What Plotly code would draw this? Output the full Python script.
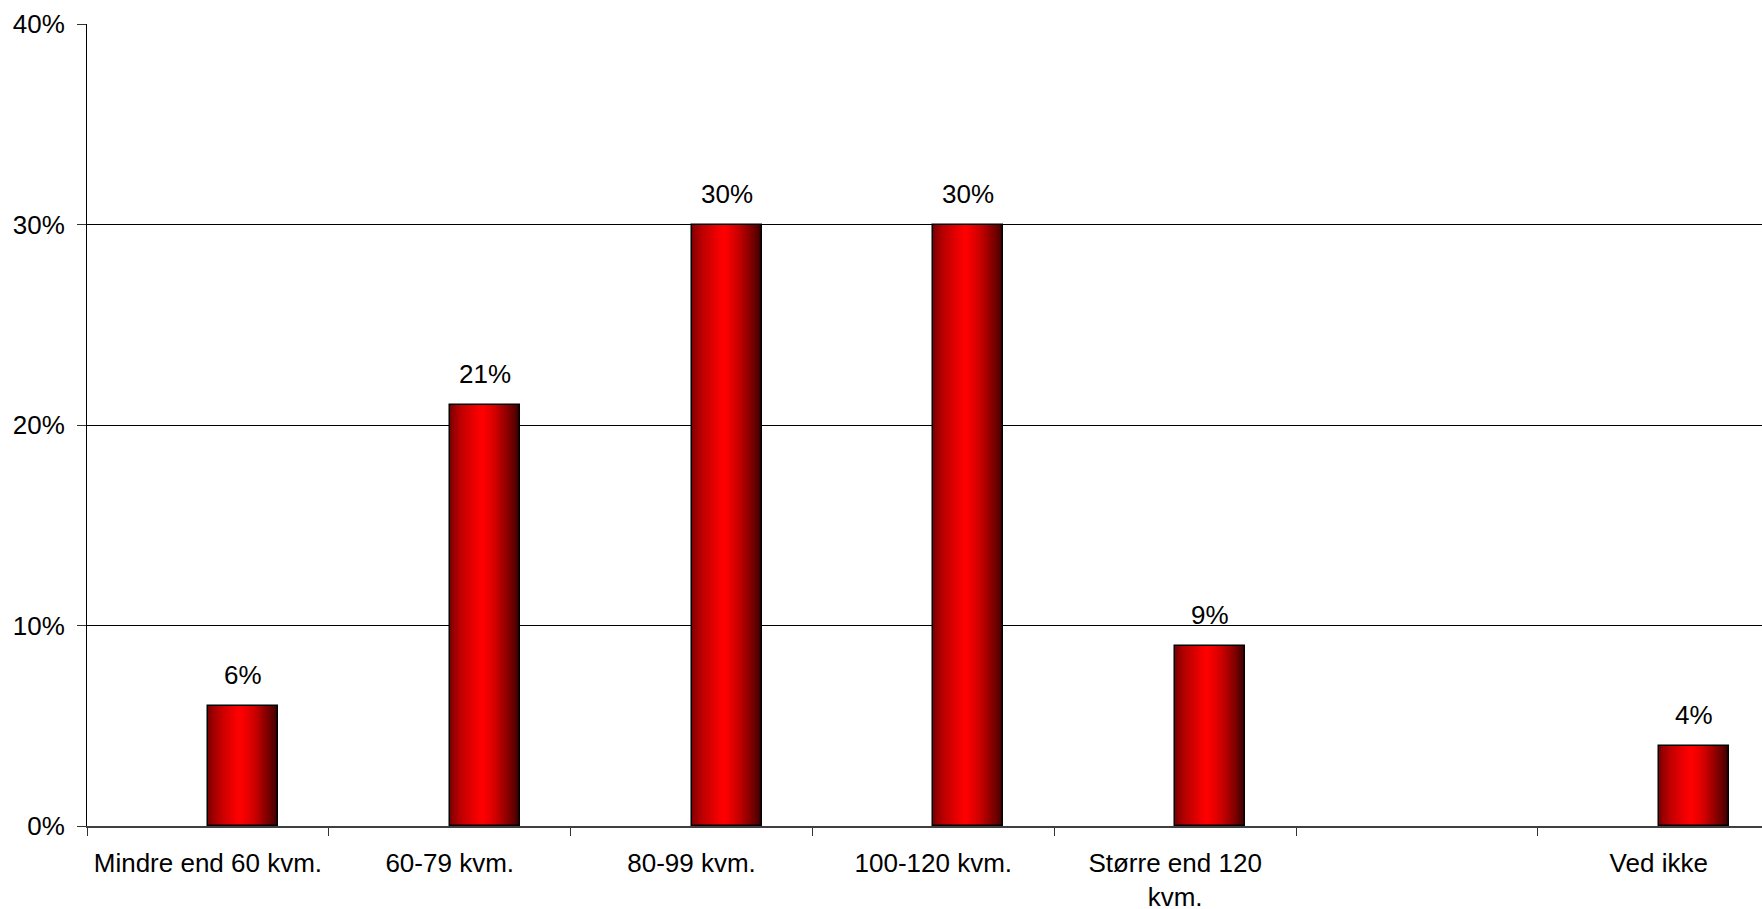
import plotly.graph_objects as go

categories = ["Mindre end 60 kvm.", "60-79 kvm.", "80-99 kvm.", "100-120 kvm.",
              "Større end 120<br>kvm.", " ", "Ved ikke"]
values = [0.06, 0.21, 0.30, 0.30, 0.09, None, 0.04]
label_text = ["6%", "21%", "30%", "30%", "9%", "", "4%"]
y_tickvals = [0, 0.1, 0.2, 0.3, 0.4]
y_ticktext = ["0%", "10%", "20%", "30%", "40%"]

BAR_W = 0.29
N_SLICES = 36
FONT = "Liberation Sans, Arial, sans-serif"
FS = 26


def shade(t):
    # horizontal gradient: dark at edges, bright red slightly left of centre
    peak = 0.45
    if t <= peak:
        r = 110 + (255 - 110) * (t / peak) ** 0.6
    else:
        r = 255 - (255 - 55) * ((t - peak) / (1 - peak)) ** 1.4
    return f"rgb({int(round(r))},0,0)"


fig = go.Figure()

for k in range(N_SLICES):
    start = BAR_W * k / N_SLICES
    fig.add_trace(go.Bar(
        x=categories, y=values,
        offset=start, width=BAR_W - start,
        marker=dict(color=shade((k + 0.5) / N_SLICES), line=dict(width=0)),
        hoverinfo="skip", showlegend=False,
    ))

# outline
fig.add_trace(go.Bar(
    x=categories, y=values, offset=0, width=BAR_W,
    marker=dict(color="rgba(0,0,0,0)", line=dict(color="black", width=1.5)),
    showlegend=False,
))

for i, (v, t) in enumerate(zip(values, label_text)):
    if v is None:
        continue
    fig.add_annotation(
        x=i + BAR_W / 2, y=v, text=t, showarrow=False,
        yanchor="bottom", yshift=14,
        font=dict(family=FONT, size=FS, color="black"),
    )

fig.update_layout(
    width=1762, height=909,
    margin=dict(l=87, r=0, t=24, b=83, autoexpand=False),
    barmode="overlay",
    bargap=0,
    plot_bgcolor="white", paper_bgcolor="white",
    font=dict(family=FONT, size=FS, color="black"),
    showlegend=False,
)

fig.update_xaxes(
    type="category",
    categoryorder="array", categoryarray=categories,
    range=[-0.5, 6.427],
    tickson="boundaries",
    ticks="outside", ticklen=8, tickwidth=1, tickcolor="#333",
    showline=True, linecolor="#404040", linewidth=2,
    showgrid=False, zeroline=False,
    automargin=False,
    ticklabelstandoff=13,
    tickfont=dict(family=FONT, size=FS, color="black"),
)

fig.update_yaxes(
    range=[0, 0.4],
    tickvals=y_tickvals, ticktext=y_ticktext,
    ticks="outside", ticklen=9, tickwidth=1, tickcolor="#333",
    showline=True, linecolor="black", linewidth=1,
    showgrid=True, gridcolor="black", gridwidth=1,
    zeroline=False,
    automargin=False,
    ticklabelstandoff=7,
    tickfont=dict(family=FONT, size=FS, color="black"),
)

fig.write_html(
    "out.html",
    config={"displayModeBar": False},
    post_script="document.body.style.margin='0';document.body.style.overflow='hidden';",
)
